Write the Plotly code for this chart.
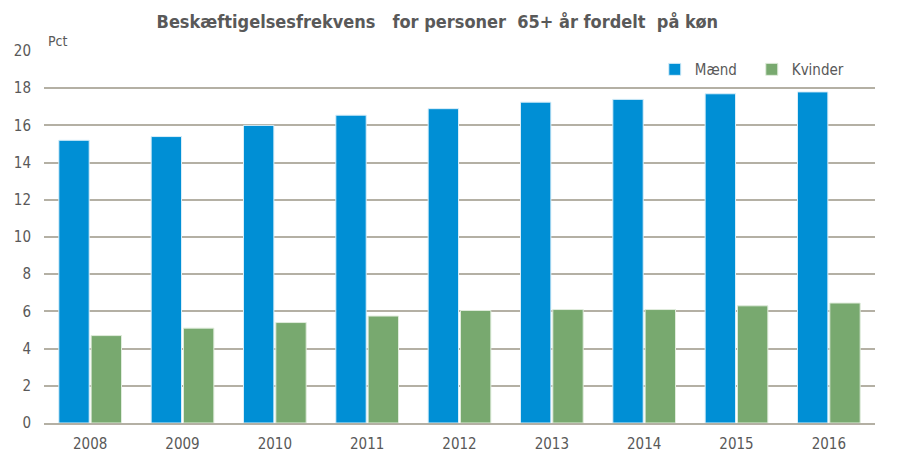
import plotly.graph_objects as go

years = ["2008", "2009", "2010", "2011", "2012", "2013", "2014", "2015", "2016"]
maend = [15.2, 15.4, 16.0, 16.55, 16.9, 17.25, 17.4, 17.7, 17.8]
kvinder = [4.7, 5.1, 5.4, 5.75, 6.05, 6.1, 6.1, 6.3, 6.45]
yticks = [0, 2, 4, 6, 8, 10, 12, 14, 16, 18, 20]

FONT = "DejaVu Sans Condensed, Liberation Sans Narrow, Arial Narrow, Roboto, Liberation Sans"
TXT = "#595959"

fig = go.Figure()
fig.add_trace(go.Bar(x=years, y=maend, name="Mænd",
                     marker=dict(color="#008fd5", line=dict(color="#d9eef9", width=1))))
fig.add_trace(go.Bar(x=years, y=kvinder, name="Kvinder",
                     marker=dict(color="#78a96f", line=dict(color="#e0ecdc", width=1))))

fig.update_layout(
    width=900, height=460,
    margin=dict(l=36, r=33, t=43, b=45),
    paper_bgcolor="white", plot_bgcolor="white",
    barmode="group", bargap=0.3, bargroupgap=0.06,
    font=dict(family=FONT, color=TXT, size=15),
    title=dict(text="<b>Beskæftigelsesfrekvens   for personer  65+ år fordelt  på køn</b>",
               x=0.477, xanchor="center", y=0.97, yanchor="middle",
               font=dict(family=FONT, size=18, color=TXT)),
    legend=dict(orientation="h", x=0.735, y=0.95, xanchor="left", yanchor="middle",
                font=dict(family=FONT, size=15, color=TXT), itemwidth=30,
                entrywidth=52, bgcolor="rgba(0,0,0,0)"),
    xaxis=dict(showgrid=False, showline=True, linecolor="#b4b0a4", linewidth=2,
               ticks="", tickfont=dict(size=15, color=TXT), automargin=False,
               ticklabelstandoff=6),
    yaxis=dict(range=[0, 20], tickvals=yticks, showgrid=True, gridcolor="#b4b0a4",
               gridwidth=2, zeroline=False, showline=False, ticks="",
               tickfont=dict(size=15, color=TXT), automargin=False,
               ticklabelstandoff=12),
    annotations=[dict(text="Pct", xref="paper", yref="paper", x=0.002, y=1.0,
                      xanchor="left", yanchor="bottom", showarrow=False,
                      font=dict(family=FONT, size=14, color=TXT))],
)

fig.write_html("out.html")
